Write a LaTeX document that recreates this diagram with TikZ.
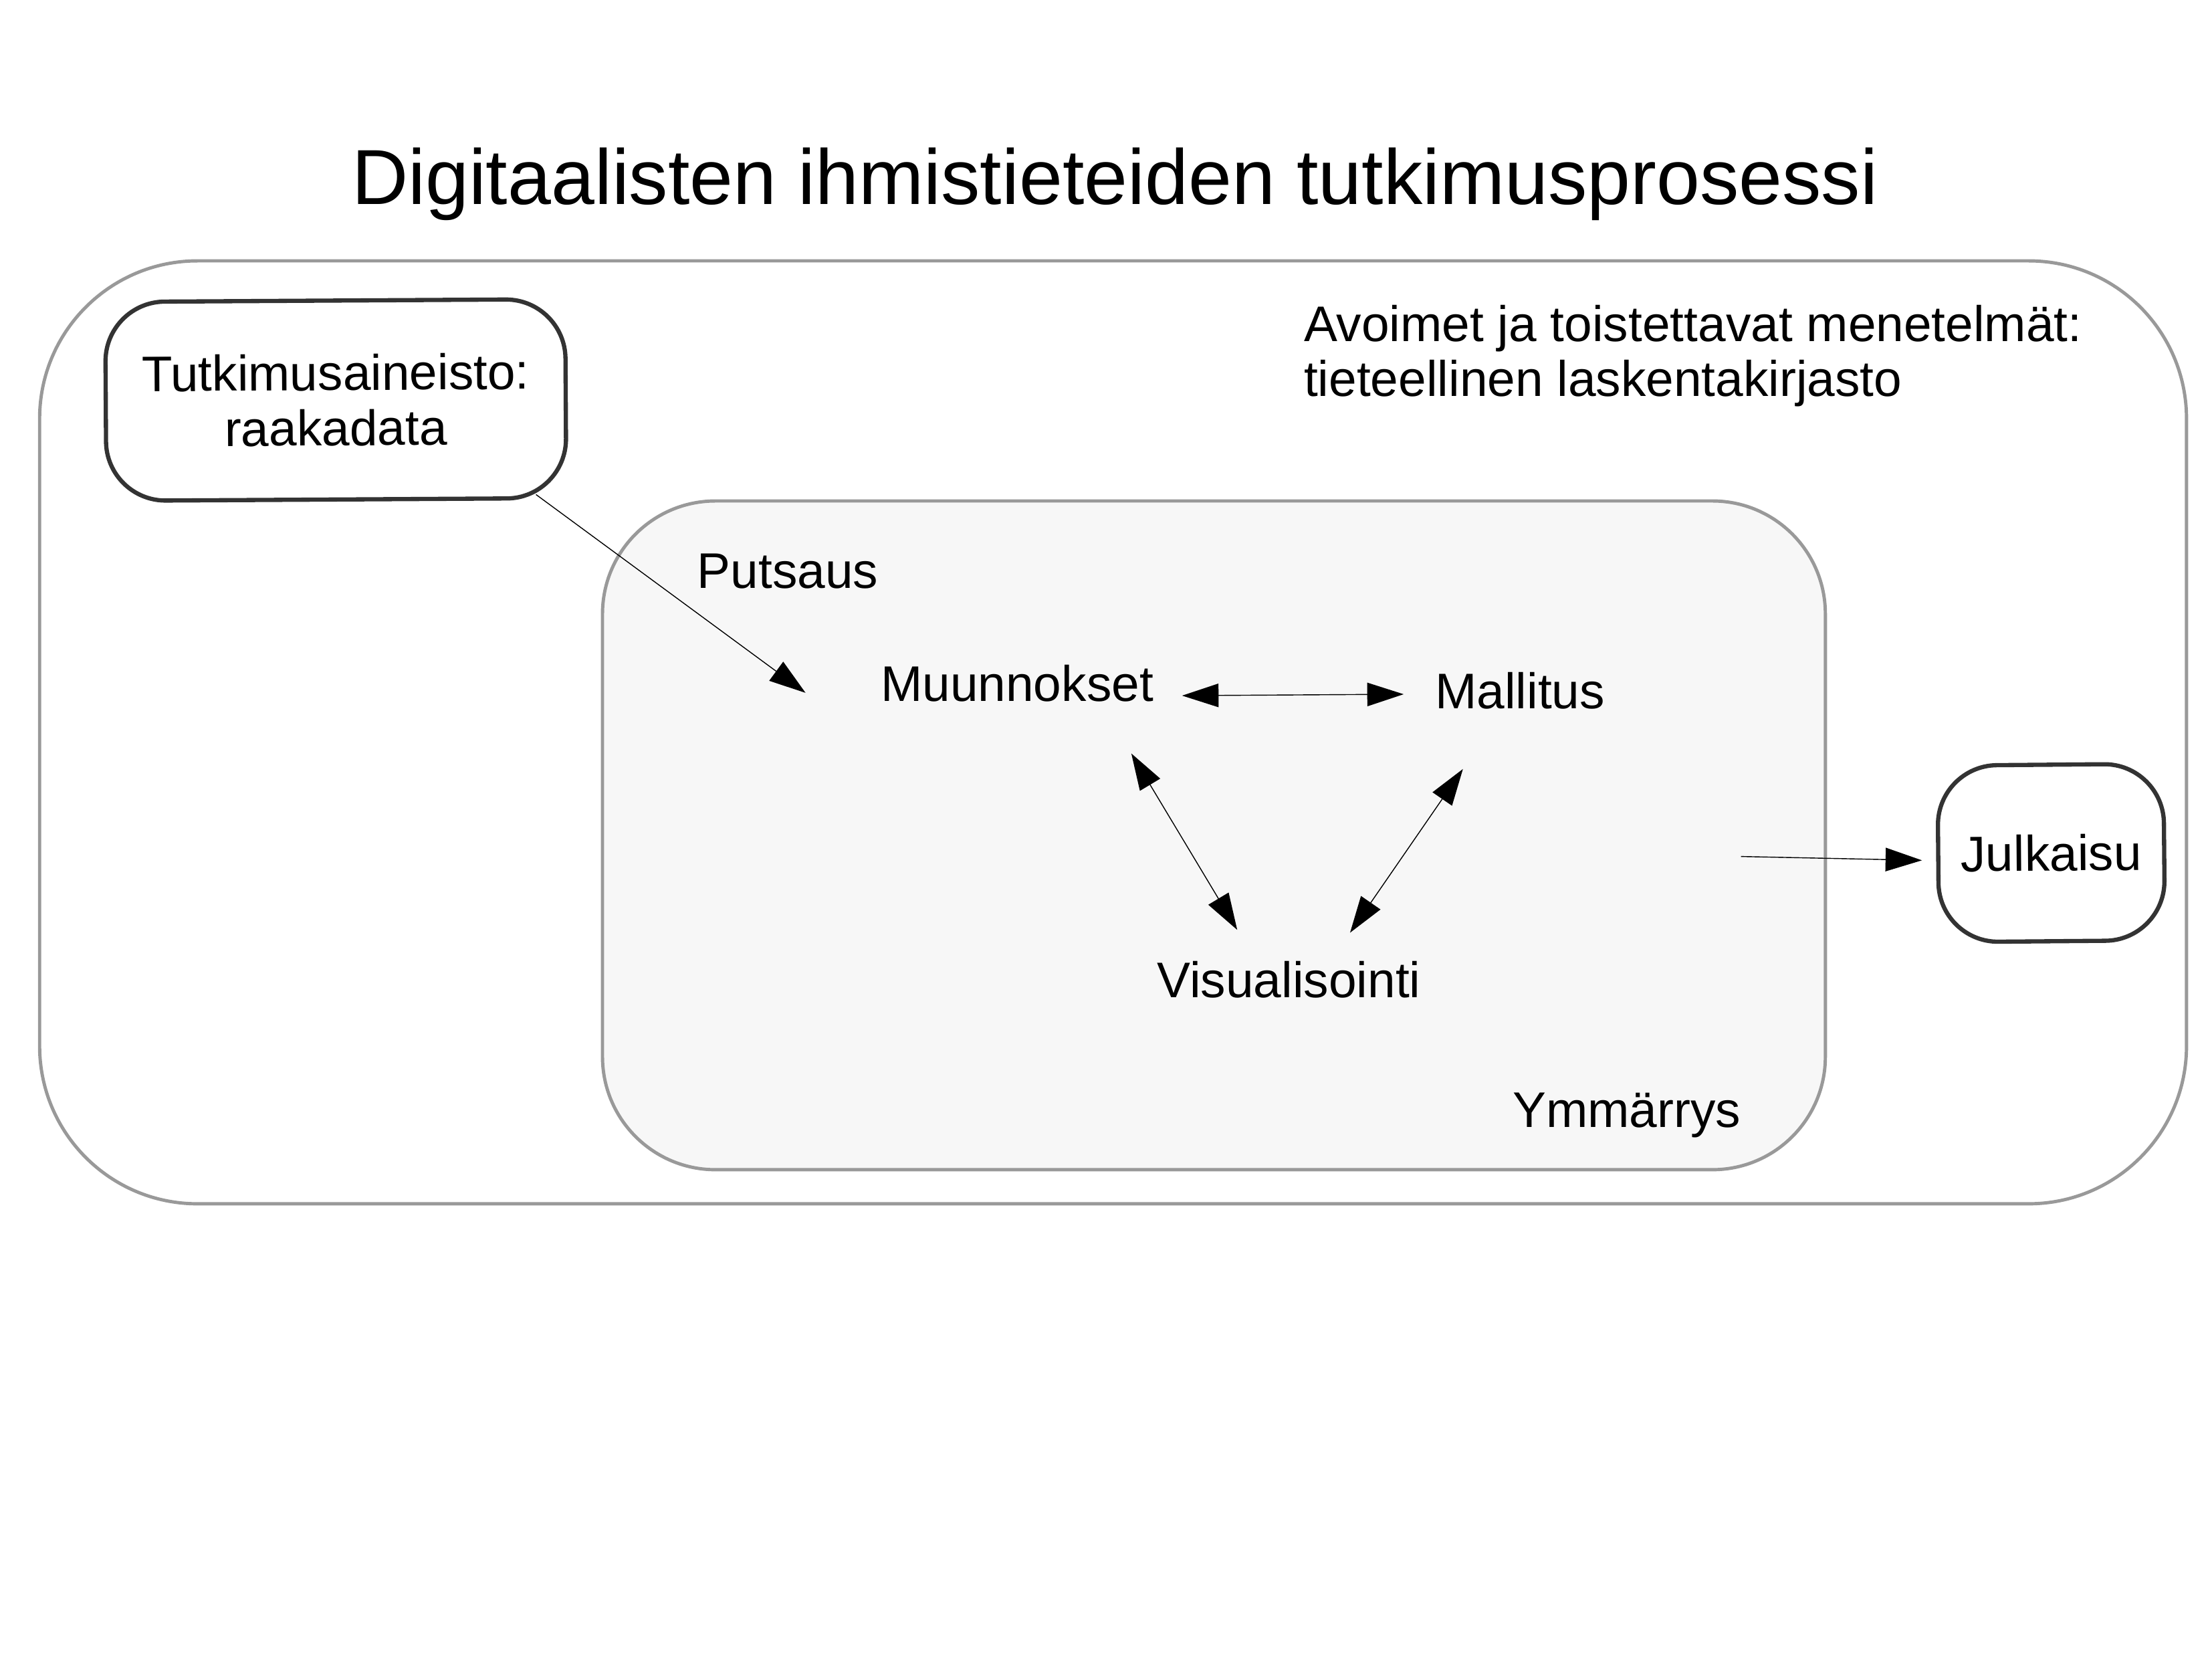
\documentclass[tikz,border=0pt]{standalone}
\usepackage{fontspec}
\setmainfont{Liberation Sans}
\usetikzlibrary{arrows.meta}
\usetikzlibrary{positioning}
\definecolor{framegray}{HTML}{999999}
\definecolor{boxdark}{HTML}{333333}
\definecolor{innerfill}{HTML}{F7F7F7}
\newcommand{\bodyfont}{\fontsize{21.3}{23.5}\selectfont}

\begin{document}
\begin{tikzpicture}[x=0.211mm, y=-0.211mm,
    region/.style={draw=framegray, line width=1.4pt, rounded corners=#1, inner sep=0pt},
    stage/.style={draw=boxdark, line width=1.8pt, rounded corners=8.9mm, fill=white, align=center, font=\bodyfont},
    lbl/.style={inner sep=0pt, font=\bodyfont, anchor=base west},
    arr/.style={line width=0.4pt, -{Triangle[length=15.5pt, width=10pt]}},
    dbl/.style={line width=0.4pt, {Triangle[length=15.5pt, width=10pt]}-{Triangle[length=15.5pt, width=10pt]}}]
    \useasboundingbox (0,0) rectangle (1568,1175);
    % title
    \node[lbl] (title) at (249,145) {\fontsize{33.2}{40}\selectfont Digitaalisten ihmistieteiden tutkimusprosessi};
    % containers
    \node[region=23.6mm, minimum width=321.1mm, minimum height=141mm] (outer) at (789,519) {};
    \node[region=16.9mm, fill=innerfill, minimum width=182.9mm, minimum height=100mm] (proc) at (860.5,592) {};
    \node[lbl, align=left] (tools) at (924,281) {Avoimet ja toistettavat menetelmät:\\tieteellinen laskentakirjasto};
    % boxes
    \node[stage, rotate=0.35, minimum width=68.8mm, minimum height=29.75mm] (data) at (238,283.5) {Tutkimusaineisto:\\raakadata};
    \node[stage, rotate=0.5, minimum width=33.8mm, minimum height=26.4mm] (julk) at (1454,604.5) {Julkaisu};
    % process steps
    \node[lbl] (puts) at (494,417) {Putsaus};
    \node[lbl] (muun) at (624,497) {Muunnokset};
    \node[lbl] (mall) at (1017,502) {Mallitus};
    \node[lbl] (vis) at (820,707) {Visualisointi};
    \node[lbl] (ymm) at (1072,799) {Ymmärrys};

    \draw[arr] ([shift={(-23,-4)}]data.south east) -- ([shift={(-53,-6)}]muun.base west);
    \draw[dbl] ([shift={(20,-4)}]muun.base east) -- ([shift={(-22,-10)}]mall.base west);
    \draw[dbl] ([shift={(-16,37)}]muun.base east) -- ([shift={(57,-48)}]vis.base west);
    \draw[dbl] ([shift={(20,43)}]mall.base west) -- ([shift={(137,-46)}]vis.base west);
    \draw[arr] ([shift={(-61,15)}]proc.east) -- ([shift={(-10,4.5)}]julk.west);
\end{tikzpicture}
\end{document}
